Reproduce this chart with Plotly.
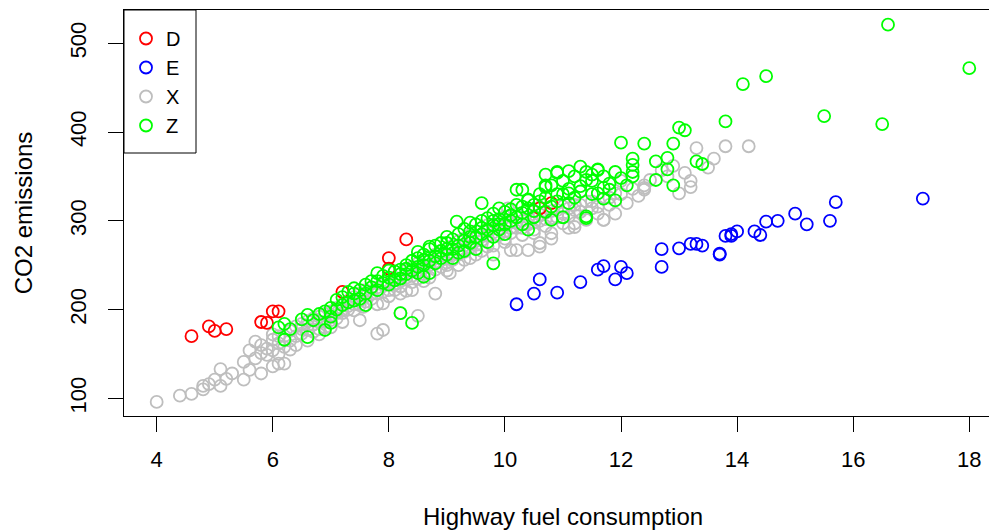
import plotly.graph_objects as go

# Fuel type D (diesel)
d_x = [4.6, 4.9, 5.0, 5.2, 5.8, 5.9, 6.0, 6.1, 7.2, 8.0, 8.0, 8.3, 10.6, 10.8]
d_y = [170, 181, 176, 178, 186, 185, 198, 198, 220, 246, 258, 279, 314, 320]

# Fuel type E (ethanol)
e_x = [10.2, 10.5, 10.6, 10.9, 11.3, 11.6, 11.7, 11.9, 12.0, 12.1, 12.7, 12.7, 13.0, 13.2,
       13.3, 13.4, 13.7, 13.7, 13.8, 13.9, 13.9, 14.0, 14.3, 14.4, 14.5, 14.7, 15.0, 15.2,
       15.6, 15.7, 17.2]
e_y = [206, 218, 234, 219, 231, 245, 249, 234, 248, 241, 268, 248, 269, 274,
       274, 272, 263, 262, 283, 285, 283, 288, 288, 284, 299, 300, 308, 296,
       300, 321, 325]

# Fuel type X (regular gasoline)
x_x = [4.0, 4.4, 4.6, 4.8, 4.8, 5.0, 5.1, 5.1, 5.5, 5.5, 5.6, 5.8, 6.0, 6.1, 6.2, 5.6, 5.7,
       5.8, 5.9, 5.9, 6.0, 6.0, 6.1, 6.1, 6.2, 6.2, 6.3, 6.3, 6.4, 6.4, 6.5, 6.5, 6.6, 6.6,
       6.7, 6.7, 6.8, 6.8, 6.9, 6.9, 7.0, 7.0, 7.1, 7.1, 7.2, 7.2, 7.3, 7.3, 7.4, 7.4, 7.5,
       7.5, 7.6, 7.6, 7.7, 7.7, 7.8, 7.9, 7.8, 7.9, 8.0, 8.0, 8.1, 8.1, 8.2, 8.2, 8.3, 8.3,
       8.4, 8.4, 8.5, 8.5, 8.5, 8.6, 8.6, 8.7, 8.7, 8.8, 8.8, 8.9, 8.9, 9.0, 9.0, 9.0, 9.1,
       9.1, 9.2, 9.2, 9.2, 9.3, 9.3, 9.4, 9.4, 9.4, 9.5, 9.5, 9.6, 9.6, 9.6, 9.7, 9.7, 9.8,
       9.8, 9.9, 9.9, 10.0, 10.0, 10.0, 10.1, 10.1, 10.2, 10.2, 10.3, 10.3, 10.4, 10.4, 10.5,
       10.5, 10.6, 10.6, 10.7, 10.7, 10.8, 10.8, 10.9, 11.0, 11.0, 11.1, 11.2, 11.2, 11.3,
       11.4, 11.4, 11.5, 11.6, 11.7, 11.7, 11.8, 11.9, 12.0, 12.0, 12.1, 12.2, 12.3, 12.4,
       12.4, 12.5, 12.7, 12.8, 13.0, 13.1, 13.2, 13.3, 13.5, 13.6, 13.8, 14.2, 12.9, 13.2,
       6.5, 6.6, 6.7, 6.8, 6.9, 7.0, 7.1, 7.2, 7.3, 7.4, 7.5, 7.6, 7.7, 7.8, 7.9, 8.0, 8.1,
       8.2, 8.3, 8.4, 8.5, 8.6, 8.7, 8.8, 8.9, 9.0, 9.1, 9.2, 9.3, 9.4, 9.5, 9.6, 9.7, 9.8,
       9.9, 10.0, 10.1, 10.2, 10.3, 10.4, 10.5, 10.6, 10.7, 10.8, 10.9, 11.0, 11.1, 11.3,
       11.5, 11.6, 11.8, 9.8, 10.2, 10.4, 10.6, 11.1, 11.2, 8.8, 7.5, 6.4, 6.3, 6.6, 6.8,
       7.0, 7.2, 5.7, 5.8, 6.0, 6.1, 5.3, 5.2, 4.9, 8.2,
       10.05, 10.6, 10.8, 11.2, 11.7, 11.9, 12.4, 10.1, 9.7, 9.3, 9.05, 8.4, 7.9, 7.56,
       9.5, 10.0, 10.5, 9.0, 8.6, 8.2, 7.8]
x_y = [96, 103, 105, 110, 114, 121, 114, 133, 121, 141, 132, 128, 136, 139, 139, 154, 164,
       151, 156, 149, 166, 154, 162, 170, 170, 158, 176, 165, 181, 170, 173, 184, 177, 187,
       183, 175, 186, 192, 180, 195, 188, 198, 190, 202, 196, 206, 200, 210, 199, 214, 205,
       218, 209, 222, 212, 225, 173, 177, 218, 228, 215, 230, 222, 236, 226, 240, 221, 244,
       231, 248, 193, 235, 252, 240, 255, 236, 259, 245, 262, 248, 266, 244, 253, 269, 256,
       272, 250, 262, 277, 265, 280, 258, 270, 284, 273, 288, 266, 278, 292, 283, 295, 272,
       287, 291, 300, 280, 294, 305, 286, 298, 292, 308, 284, 300, 296, 312, 290,
       305, 300, 315, 294, 309, 286, 303, 312, 297, 316, 305, 293, 318, 310,
       301, 322, 314, 308, 301, 325, 318, 308, 330, 345, 320, 336, 328, 335,
       340, 346, 357, 350, 331, 354, 338, 382, 360, 370, 384, 384, 362, 345,
       178, 182, 190, 178, 186, 194, 196, 200, 204, 206, 210, 215, 218, 225, 220, 222, 228,
       232, 236, 238, 244, 246, 250, 254, 257, 260, 263, 268, 272, 276, 280, 284, 288, 292,
       284, 288, 292, 298, 292, 304, 298, 307, 302, 311, 304, 308, 314, 318,
       322, 316, 326, 262, 267, 267, 275, 292, 297, 218, 188, 160, 155, 165, 172,
       180, 186, 145, 160, 172, 150, 128, 122, 116, 196,
       314, 271, 280, 312, 301, 331, 337, 267, 271, 256, 241, 222, 207, 203,
       262, 276, 286, 250, 232, 218, 206]

# Fuel type Z (premium gasoline)
z_x = [6.2, 6.2, 6.1, 6.3, 6.5, 6.6, 6.6, 6.7, 6.8, 6.9, 6.9, 7.0, 7.0, 7.1, 7.1, 7.2, 7.2,
       7.3, 7.3, 7.4, 7.4, 7.5, 7.5, 7.6, 7.6, 7.7, 7.7, 7.8, 7.8, 7.9, 7.9, 8.0, 8.0, 8.1,
       8.1, 8.2, 8.2, 8.2, 8.3, 8.3, 8.4, 8.4, 8.4, 8.5, 8.5, 8.5, 8.6, 8.6, 8.7, 8.7, 8.7,
       8.8, 8.8, 8.8, 8.9, 8.9, 9.0, 9.0, 9.0, 9.1, 9.1, 9.2, 9.2, 9.3, 9.3, 9.3, 9.4, 9.4,
       9.5, 9.5, 9.5, 9.6, 9.6, 9.7, 9.7, 9.7, 9.8, 9.8, 9.8, 9.9, 9.9, 10.0, 10.0, 10.0,
       10.1, 10.1, 10.2, 10.2, 10.2, 10.3, 10.3, 10.4, 10.4, 10.5, 10.5, 10.6, 10.6, 10.7,
       10.7, 10.7, 10.8, 10.8, 10.9, 10.9, 11.0, 11.0, 11.0, 11.1, 11.1, 11.2, 11.2, 11.3,
       11.3, 11.4, 11.4, 11.4, 11.5, 11.5, 11.6, 11.6, 11.7, 11.7, 11.8, 11.9, 11.9, 12.0,
       12.0, 12.1, 12.2, 12.2, 12.2, 12.2, 12.4, 12.6, 12.6, 12.8, 12.8, 12.9, 12.9, 13.0,
       13.1, 13.3, 13.4, 13.8, 14.1, 14.5, 15.5, 16.5, 16.6, 18.0,
       7.8, 8.0, 8.2, 8.3, 8.6, 8.9, 9.1, 9.2, 9.4, 9.6, 9.9, 10.1, 10.3, 10.5, 10.9, 11.1,
       11.3, 11.8, 9.0, 8.5, 9.4, 9.8, 10.4, 7.0, 7.4, 7.6,
       9.6, 9.9, 10.3, 10.4, 10.8, 10.7, 10.9, 10.7, 11.5, 11.6, 11.7, 11.1, 11.4,
       9.8, 9.17, 8.7, 8.6]
z_y = [184, 166, 180, 178, 189, 194, 169, 188, 195, 177, 198, 202, 192, 211, 200, 205, 214,
       208, 220, 218, 210, 222, 212, 218, 228, 225, 232, 241, 222, 230, 238, 236, 228, 233,
       243, 245, 196, 235, 240, 250, 185, 244, 255, 241, 258, 248, 250, 262, 241, 255, 268,
       252, 260, 272, 258, 266, 262, 275, 282, 268, 258, 272, 285, 266, 278, 291, 275, 288,
       282, 296, 268, 285, 300, 290, 276, 303, 295, 282, 308, 290, 302, 296, 310, 285,
       300, 313, 304, 335, 318, 309, 296, 314, 324, 304, 318, 322, 330, 310,
       338, 326, 316, 340, 355, 322, 304, 330, 345, 356, 336, 326, 350, 361,
       339, 355, 346, 305, 345, 330, 357, 331, 337, 350, 342, 355, 323, 388,
       348, 340, 370, 363, 355, 350, 387, 367, 346, 371, 358, 340, 387, 405,
       402, 367, 364, 412, 454, 463, 418, 409, 521, 472,
       232, 244, 240, 246, 256, 275, 279, 264, 282, 292, 296, 306, 316, 311, 330, 320,
       333, 335, 268, 265, 298, 300, 290, 185, 224, 205,
       320, 314, 335, 323, 301, 340, 354, 352, 352, 358, 325, 331, 303,
       252, 299, 271, 237]

legend_order = ["D", "E", "X", "Z"]
x_ticks = [4, 6, 8, 10, 12, 14, 16, 18]
y_ticks = [100, 200, 300, 400, 500]

FONT = "Liberation Sans, Arial, Helvetica, sans-serif"
TICK_FS = 22
TITLE_FS = 24
LEG_FS = 20

def trace(xs, ys, name, color):
    return go.Scatter(
        x=xs, y=ys, mode="markers", name=name,
        legendrank=legend_order.index(name) + 1,
        marker=dict(symbol="circle-open", size=12, color=color,
                    line=dict(width=1.8, color=color)),
    )

fig = go.Figure()
fig.add_trace(trace(x_x, x_y, "X", "#BEBEBE"))
fig.add_trace(trace(d_x, d_y, "D", "#FF0000"))
fig.add_trace(trace(e_x, e_y, "E", "#0000FF"))
fig.add_trace(trace(z_x, z_y, "Z", "#00FF00"))

PLOT_H = 531 - 10 - 115
PLOT_W = 989 - 124

fig.update_layout(
    width=989, height=531,
    margin=dict(l=124, r=0, t=10, b=115, autoexpand=False),
    paper_bgcolor="white", plot_bgcolor="white",
    font=dict(family=FONT, size=TICK_FS, color="black"),
    showlegend=True,
    legend=dict(x=2 / PLOT_W, y=1 - 9 / PLOT_H, xanchor="left", yanchor="top",
                borderwidth=0, bgcolor="rgba(0,0,0,0)",
                font=dict(size=LEG_FS), tracegroupgap=0),
    shapes=[dict(type="rect", xref="paper", yref="paper",
                 x0=0, x1=72 / PLOT_W, y0=1 - 143 / PLOT_H, y1=1,
                 line=dict(color="black", width=1), fillcolor="white",
                 layer="below")],
    annotations=[dict(text="Highway fuel consumption", xref="paper", yref="paper",
                      x=(563 - 124) / PLOT_W, y=-(516 - 416) / PLOT_H,
                      xanchor="center", yanchor="middle", showarrow=False,
                      font=dict(size=TITLE_FS))],
    xaxis=dict(
        range=[3.437, 18.34], tickmode="array", tickvals=x_ticks,
        ticks="outside", ticklen=15, tickwidth=1, tickcolor="black",
        showline=True, linecolor="black", linewidth=1, mirror=True,
        showgrid=False, zeroline=False, automargin=False,
        ticklabelstandoff=9, tickfont=dict(size=TICK_FS),
    ),
    yaxis=dict(
        range=[80.1, 537.5], tickmode="array", tickvals=y_ticks,
        tickangle=-90,
        ticks="outside", ticklen=15, tickwidth=1, tickcolor="black",
        showline=True, linecolor="black", linewidth=1, mirror=False,
        showgrid=False, zeroline=False, automargin=False,
        ticklabelstandoff=13, tickfont=dict(size=TICK_FS),
        title=dict(text="CO2 emissions", standoff=26, font=dict(size=TITLE_FS)),
    ),
)

fig.write_html("out.html")
